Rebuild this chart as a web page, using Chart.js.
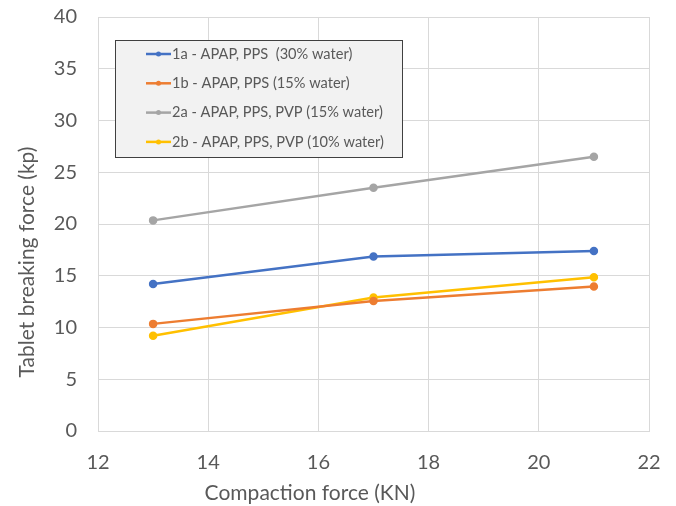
<!DOCTYPE html>
<html>
<head>
<meta charset="utf-8">
<script src="https://cdn.jsdelivr.net/npm/chart.js@4"></script>
<style>
  html, body { margin: 0; padding: 0; background: #fff; }
  #wrap { width: 676px; height: 506px; position: relative; }
</style>
</head>
<body>
<div id="wrap"><canvas id="grafico" width="676" height="506"></canvas></div>
<script>
// datos
const fuerzaCompactacion = [13, 17, 21];
const serie1a = [14.2, 16.85, 17.4];
const serie1b = [10.35, 12.55, 13.95];
const serie2a = [20.35, 23.5, 26.5];
const serie2b = [9.2, 12.9, 14.85];
const nombres = [
  '1a - APAP, PPS  (30% water)',
  '1b - APAP, PPS (15% water)',
  '2a - APAP, PPS, PVP (15% water)',
  '2b - APAP, PPS, PVP (10% water)'
];
const colores = ['#4472C4', '#ED7D31', '#A5A5A5', '#FFC000'];
const ticksX = [12, 14, 16, 18, 20, 22];
const ticksY = [0, 5, 10, 15, 20, 25, 30, 35, 40];

const FUENTE = "Lato, 'Open Sans', sans-serif";
const GRIS_TEXTO = '#595959';

function armarSerie(valores, i) {
  return {
    label: nombres[i],
    data: fuerzaCompactacion.map((x, k) => ({ x: x, y: valores[k] })),
    borderColor: colores[i],
    backgroundColor: colores[i],
    borderWidth: 2.5,
    pointRadius: 3,
    pointHoverRadius: 3,
    showLine: true,
    tension: 0
  };
}

// leyenda con caja y titulos de ejes, dibujados a mano
const extras = {
  id: 'extras',
  afterDraw(chart) {
    const ctx = chart.ctx;
    ctx.save();
    // caja de leyenda
    ctx.fillStyle = '#f2f2f2';
    ctx.fillRect(115, 40, 287, 117);
    ctx.strokeStyle = '#404040';
    ctx.lineWidth = 1;
    ctx.strokeRect(115.5, 40.5, 287, 117);
    ctx.font = "14.6px " + FUENTE;
    ctx.textBaseline = 'middle';
    chart.data.datasets.forEach((ds, i) => {
      const y = 54 + i * 29.3;
      ctx.strokeStyle = ds.borderColor;
      ctx.lineWidth = 2.5;
      ctx.beginPath(); ctx.moveTo(146, y); ctx.lineTo(171, y); ctx.stroke();
      ctx.fillStyle = ds.borderColor;
      ctx.beginPath(); ctx.arc(158.5, y, 2.5, 0, Math.PI * 2); ctx.fill();
      ctx.fillStyle = GRIS_TEXTO;
      ctx.fillText(ds.label, 172, y);
    });
    // titulos de ejes
    ctx.fillStyle = GRIS_TEXTO;
    ctx.font = "21px " + FUENTE;
    ctx.textAlign = 'center';
    ctx.fillText('Compaction force (KN)', 310, 493);
    ctx.translate(27, 262);
    ctx.rotate(-Math.PI / 2);
    ctx.fillText('Tablet breaking force (kp)', 0, 0);
    ctx.restore();
  }
};

new Chart(document.getElementById('grafico'), {
  type: 'scatter',
  data: { datasets: [serie1a, serie1b, serie2a, serie2b].map(armarSerie) },
  plugins: [extras],
  options: {
    responsive: false,
    animation: false,
    layout: { padding: { left: 0, right: 27, top: 17, bottom: 0 } },
    plugins: { legend: { display: false }, tooltip: { enabled: false } },
    scales: {
      x: {
        type: 'linear', min: 12, max: 22,
        afterBuildTicks: s => { s.ticks = ticksX.map(v => ({ value: v })); },
        afterFit: s => { s.height = 75; s.paddingLeft = 0; s.paddingRight = 0; },
        grid: { color: '#d9d9d9', drawTicks: false },
        border: { color: '#d9d9d9' },
        ticks: { color: GRIS_TEXTO, font: { family: FUENTE, size: 20 }, padding: 20, maxRotation: 0 }
      },
      y: {
        min: 0, max: 40,
        afterBuildTicks: s => { s.ticks = ticksY.map(v => ({ value: v })); },
        afterFit: s => { s.width = 98; s.paddingTop = 0; s.paddingBottom = 0; },
        grid: { color: '#d9d9d9', drawTicks: false },
        border: { color: '#d9d9d9' },
        ticks: { color: GRIS_TEXTO, font: { family: FUENTE, size: 20 }, padding: 21 }
      }
    }
  }
});
</script>
</body>
</html>
